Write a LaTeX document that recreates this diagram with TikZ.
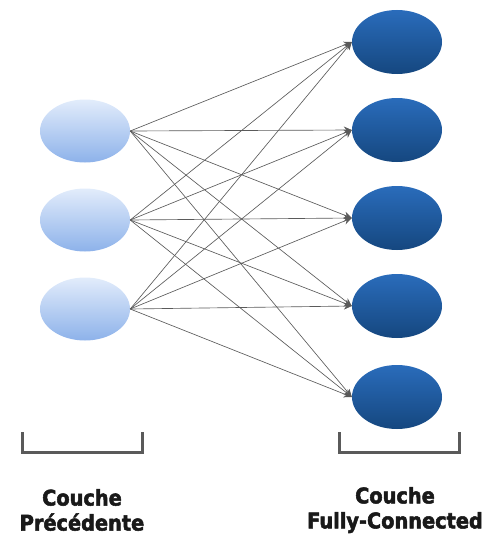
\documentclass[tikz,border=0pt]{standalone}
\usepackage{fontspec}
\setmainfont{DejaVu Sans Condensed}
\newfontfamily\heavyfont{DejaVu Sans Condensed}[BoldFeatures={FakeBold=2.4}]
\usetikzlibrary{arrows.meta,shapes.geometric}
\definecolor{lighttop}{HTML}{E2ECFB}
\definecolor{lightbot}{HTML}{8DB2EA}
\definecolor{darktop}{HTML}{2A6CBB}
\definecolor{darkbot}{HTML}{15477F}
\definecolor{linegray}{HTML}{5A5A5A}
\definecolor{brackgray}{HTML}{5A5A5A}
\tikzset{
  inneuron/.style={ellipse, minimum width=90pt, minimum height=63pt, inner sep=0pt,
    top color=lighttop, bottom color=lightbot, draw=none},
  outneuron/.style={ellipse, minimum width=90pt, minimum height=64pt, inner sep=0pt,
    top color=darktop, bottom color=darkbot, draw=none},
  conn/.style={draw=linegray, line width=0.65pt, -{Stealth[length=8pt,width=7pt]}},
  bracket/.style={draw=brackgray, line width=3pt},
  lbl/.style={font=\heavyfont\bfseries\fontsize{21.5}{25}\selectfont, align=center, text=black!90, inner sep=0pt}
}
\begin{document}
\begin{tikzpicture}[x=1pt,y=-1pt]
\useasboundingbox (0,0) rectangle (492,535);
\node[inneuron] (i1) at (85,131) {};
\node[inneuron] (i2) at (85,220) {};
\node[inneuron] (i3) at (85,309) {};
\node[outneuron] (o1) at (397,42) {};
\node[outneuron] (o2) at (397,130) {};
\node[outneuron] (o3) at (397,218) {};
\node[outneuron] (o4) at (397,306) {};
\node[outneuron] (o5) at (397,397) {};
\foreach \i in {1,2,3}{
  \foreach \o in {1,...,5}{
    \draw[conn] (i\i.east) -- (o\o.west);
  }
}
\coordinate (b1a) at (22,432);
\coordinate (b1b) at (22,452);
\coordinate (b1c) at (142,452);
\coordinate (b1d) at (142,432);
\draw[bracket] (b1a) -- (b1b) -- (b1c) -- (b1d);
\coordinate (b2a) at (339,432);
\coordinate (b2b) at (339,452);
\coordinate (b2c) at (459,452);
\coordinate (b2d) at (459,432);
\draw[bracket] (b2a) -- (b2b) -- (b2c) -- (b2d);
\node[lbl] (t1) at (82,510) {Couche\\Précédente};
\node[lbl] (t2) at (395,510) {Couche\\Fully-Connected};
\end{tikzpicture}
\end{document}
